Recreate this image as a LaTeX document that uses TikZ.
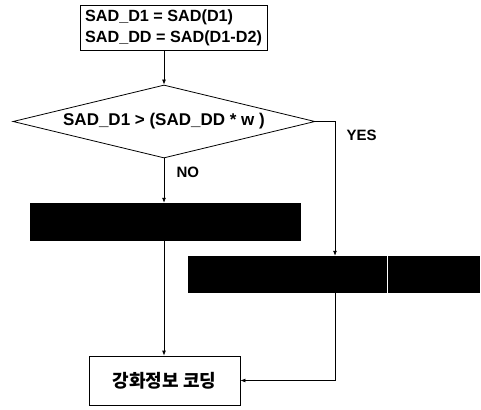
\documentclass[tikz,border=0pt]{standalone}
\usepackage{fontspec}
\setmainfont{Liberation Sans}
\newfontfamily\krfont{Noto Sans CJK KR}
\usetikzlibrary{arrows.meta,positioning,shapes.geometric}

\begin{document}
\begin{tikzpicture}[x=1pt,y=-1pt,
  box/.style={draw,line width=0.8pt,inner sep=0pt,align=left,
  font=\fontsize{16.2}{21}\selectfont\bfseries},
  decide/.style={diamond,aspect=4.14,draw,line width=0.8pt,inner sep=0pt,minimum width=302pt,
  minimum height=73pt,font=\fontsize{17}{18}\selectfont\bfseries},
  hidden/.style={fill=black,inner sep=0pt},
  lbl/.style={font=\fontsize{15}{18}\selectfont\bfseries},
  arr/.style={-{Latex[length=5pt,width=4pt]},line width=0.8pt}]
\useasboundingbox (0,0) rectangle (481,409);
\node[box,minimum width=187pt,minimum height=45pt] (sad) at (173.5,27.5) {SAD\_D1 = SAD(D1)\\SAD\_DD = SAD(D1-D2)};
\node[decide] (cmp) at (164,121.5) {SAD\_D1 > (SAD\_DD * w )};
\node[hidden,minimum width=271pt,minimum height=38pt] (no) at (165.5,222) {};
\node[hidden,minimum width=199pt,minimum height=37pt] (yes) at (287.5,274.5) {};
\node[hidden,minimum width=92pt,minimum height=37pt] (yes2) at (434,274.5) {};
\node[box,minimum width=151pt,minimum height=49pt,font=\krfont\fontsize{18}{20}\selectfont\bfseries] (code) at (164.5,380.5) {강화정보 코딩};
\node[lbl,anchor=west] (yeslbl) at (343,135) {YES};
\node[lbl,anchor=west] (nolbl) at (173,172) {NO};
\coordinate (yesx) at (335,0);
% flow
\draw[arr] (sad.south -| cmp.north) -- (cmp.north);
\draw[arr] (cmp.south) -- (cmp.south |- no.north);
\draw[arr] (cmp.south |- no.south) -- (cmp.south |- code.north);
\draw[arr] (cmp.east) -- (cmp.east -| yesx) -- (yes.north -| yesx);
\draw[arr] (yes.south -| yesx) |- (code.east);
\end{tikzpicture}
\end{document}
